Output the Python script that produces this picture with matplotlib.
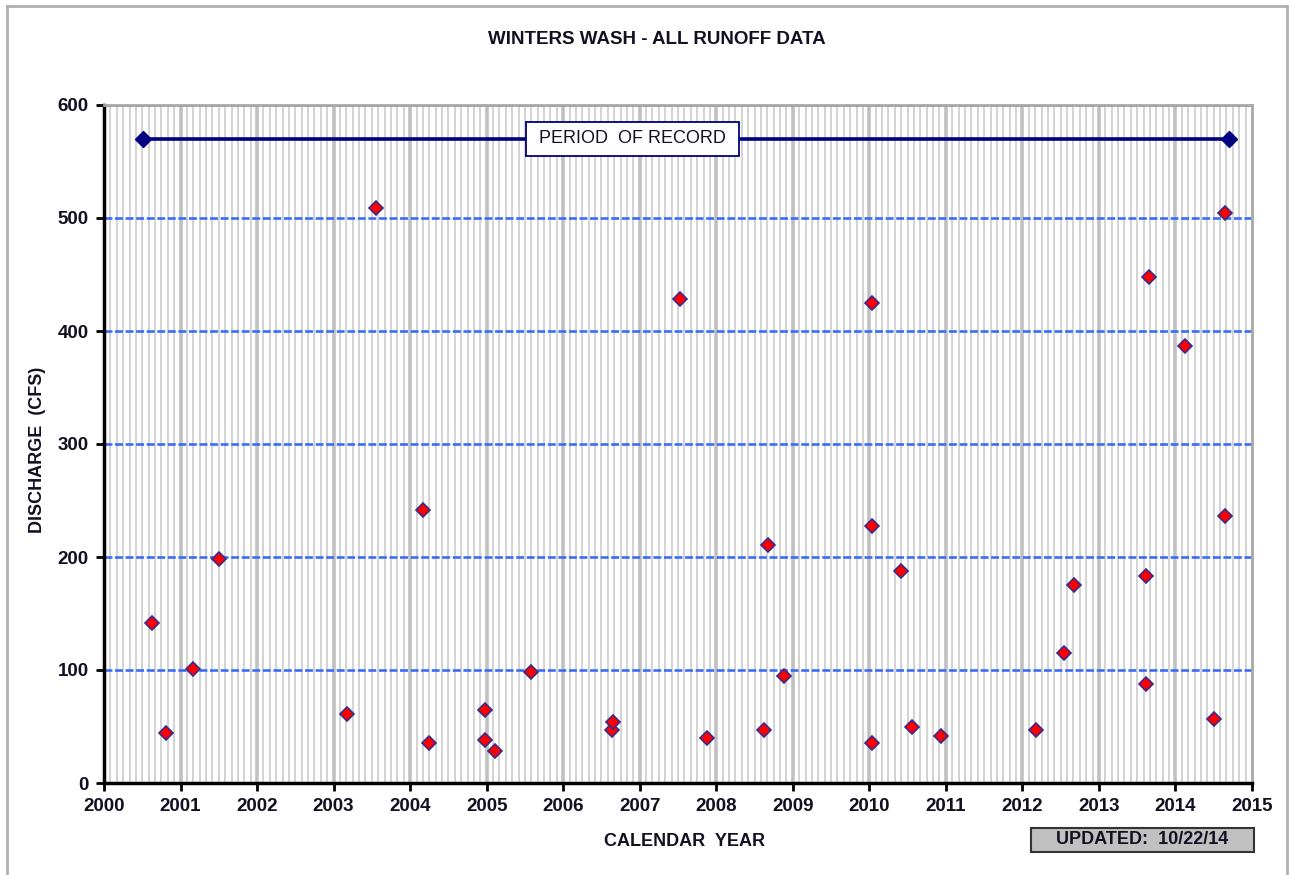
import numpy as np
import matplotlib
matplotlib.use("Agg")
import matplotlib.pyplot as plt
from matplotlib.lines import Line2D

#### DATA ####
# decimal year of each runoff event, and its peak discharge (cfs)
eventYear = [2000.63, 2000.81, 2001.16, 2001.50, 2003.18, 2003.56, 2004.17, 2004.24,
             2004.98, 2004.98, 2005.11, 2005.58, 2006.64, 2006.65, 2007.53, 2007.88,
             2008.63, 2008.67, 2008.88, 2010.03, 2010.03, 2010.03, 2010.42, 2010.56,
             2010.93, 2012.18, 2012.54, 2012.67, 2013.62, 2013.62, 2013.66, 2014.13,
             2014.50, 2014.65, 2014.65]
eventCfs = [142, 44, 101, 198, 61, 509, 242, 35,
            65, 38, 28, 98, 47, 54, 428, 40,
            47, 211, 95, 425, 227, 35, 188, 50,
            42, 47, 115, 175, 88, 183, 448, 387,
            57, 236, 504]

recordYears = [2000.51, 2014.70]
recordLevel = [570, 570]

yearTicks = list(range(2000, 2016))
cfsTicks = [0, 100, 200, 300, 400, 500, 600]

titleTxt = "WINTERS WASH - ALL RUNOFF DATA"
updatedTxt = "UPDATED:  10/22/14"

#### STYLE ####
plt.rcParams['font.family'] = ['Liberation Sans', 'DejaVu Sans']
txtColor = '#111122'
navy = '#000080'

fig = plt.figure(figsize=(12.89, 8.75), dpi=100)
ax = fig.add_axes([104/1289, 1-783/875, (1252-104)/1289, (783-105)/875])

# monthly grid lines + heavier yearly lines
for m in np.arange(2000, 2015, 1/12.):
    if abs(m - round(m)) < 1e-6:
        ax.axvline(m, color='#c0c0c0', lw=2.6, zorder=0)
    else:
        ax.axvline(m, color='#d3d3d3', lw=1.4, zorder=0)
for c in cfsTicks[1:]:
    ax.axhline(c, color='#3a6cf8', lw=1.9, ls=(0, (3, 1)), zorder=1)

# period of record
ax.plot(recordYears, recordLevel, color=navy, lw=2.6, marker='D', ms=8,
        mfc=navy, mec=navy, zorder=3)
ax.text(2006.90, 570, " PERIOD  OF RECORD ", ha='center', va='center', fontsize=13,
        color=txtColor, zorder=4,
        bbox=dict(boxstyle='square,pad=0.45', fc='white', ec=navy, lw=1.3))

# runoff events
ax.plot(eventYear, eventCfs, ls='none', marker='D', ms=7.2, mfc='#ff0000',
        mec='#3b2a8a', mew=1.2, zorder=5)

ax.set_xlim(2000, 2015)
ax.set_ylim(0, 600)
ax.set_xticks(yearTicks)
ax.set_yticks(cfsTicks)
ax.tick_params(axis='both', direction='out', length=6, width=2, labelsize=13.5,
               colors='black', labelcolor=txtColor, pad=5)
for lbl in ax.get_xticklabels() + ax.get_yticklabels():
    lbl.set_fontweight('bold')

for s in ['left', 'bottom']:
    ax.spines[s].set_linewidth(2.5)
    ax.spines[s].set_color('black')
for s in ['top', 'right']:
    ax.spines[s].set_linewidth(2)
    ax.spines[s].set_color('#a8a8a8')

fig.text(657/1289, 1-40/875, titleTxt, ha='center', va='center', fontsize=13.5,
         fontweight='bold', color=txtColor)
fig.text(685/1289, 1-842/875, "CALENDAR  YEAR", ha='center', va='center',
         fontsize=13, fontweight='bold', color=txtColor)
fig.text(38/1289, 1-450/875, "DISCHARGE  (CFS)", ha='center', va='center',
         rotation=90, fontsize=13, fontweight='bold', color=txtColor)

# updated box
fig.patches.append(plt.Rectangle((1031/1289, 1-852/875), 223/1289, 24/875,
                                 transform=fig.transFigure, fc='#c0c0c0',
                                 ec='#333333', lw=1.5))
fig.text(1142/1289, 1-840/875, updatedTxt, ha='center', va='center',
         fontsize=13, fontweight='bold', color=txtColor)

# outer chart frame
for (x0, y0, x1, y1) in [(7, 6, 7, 875), (7, 6, 1287, 6), (1287, 6, 1287, 875)]:
    fig.add_artist(Line2D([x0/1289, x1/1289], [1-y0/875, 1-y1/875],
                          transform=fig.transFigure, color='#b0b0b0', lw=2))

fig.savefig("out.png", dpi=100)
